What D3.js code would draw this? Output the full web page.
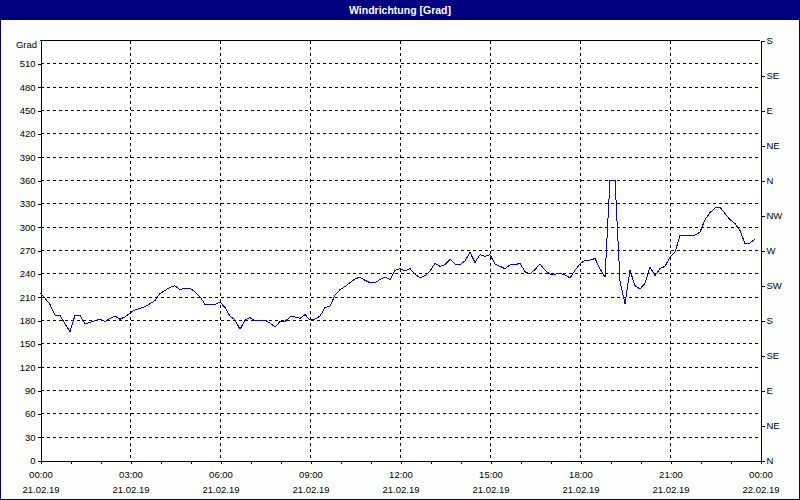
<!DOCTYPE html>
<html>
<head>
<meta charset="utf-8">
<script src="https://cdn.jsdelivr.net/npm/d3@7"></script>
<style>
  html, body { margin: 0; padding: 0; background: #fcfefc; }
  svg { display: block; }
  text { font-family: "Liberation Sans", Arial, sans-serif; }
</style>
</head>
<body>
<svg id="chart" width="800" height="500"></svg>
<script>
// ---- data ----
const title = "Windrichtung [Grad]";
const unitLabel = "Grad";
const startTime = "2019-02-21T00:00:00";
const stepMinutes = 10;
// wind direction in degrees, one value every 10 minutes from 21.02.19 00:00
const values = [
  215, 208, 200, 186, 186, 175, 165, 186, 186, 175, 177, 179,
  181, 178, 182, 185, 181, 184, 189, 193, 195, 197, 201, 205,
  214, 218, 222, 224, 219, 221, 221, 216, 210, 200, 200, 200,
  203, 196, 185, 180, 168, 180, 183, 179, 180, 180, 176, 171,
  178, 178, 184, 184, 182, 187, 180, 181, 185, 196, 198, 212,
  219, 223, 228, 233, 235, 231, 228, 228, 232, 235, 232, 244,
  246, 243, 246, 239, 234, 237, 243, 253, 249, 251, 258, 252,
  251, 256, 267, 254, 264, 262, 264, 252, 249, 246, 251, 251,
  253, 242, 239, 245, 252, 244, 239, 239, 240, 238, 234, 244,
  252, 257, 257, 259, 246, 235, 360, 360, 230, 201, 244, 224,
  220, 227, 248, 237, 246, 249, 261, 267, 289, 289, 289, 289,
  293, 309, 318, 324, 325, 317, 309, 304, 295, 278, 279, 284
];
const yTickValues = [0, 30, 60, 90, 120, 150, 180, 210, 240, 270, 300, 330, 360, 390, 420, 450, 480, 510];
const compassValues = [0, 45, 90, 135, 180, 225, 270, 315, 360, 405, 450, 495, 540];
const compassLabels = ["N", "NE", "E", "SE", "S", "SW", "W", "NW", "N", "NE", "E", "SE", "S"];
const xMajorTicks = [
  "2019-02-21T00:00:00", "2019-02-21T03:00:00", "2019-02-21T06:00:00",
  "2019-02-21T09:00:00", "2019-02-21T12:00:00", "2019-02-21T15:00:00",
  "2019-02-21T18:00:00", "2019-02-21T21:00:00", "2019-02-22T00:00:00"
];
const xDomain = ["2019-02-21T00:00:00", "2019-02-22T00:00:00"];
const yDomain = [0, 540];

// ---- layout ----
const W = 800, H = 500;
const plot = { left: 40, right: 760, top: 40, bottom: 460 };
const navy = "#000080";

const svg = d3.select("#chart");

// window frame + title bar
svg.append("rect").attr("x", 0.5).attr("y", 0.5).attr("width", W - 1).attr("height", H - 1)
  .attr("fill", "#fcfefc").attr("stroke", navy).attr("stroke-width", 1);
svg.append("rect").attr("x", 0).attr("y", 0).attr("width", W).attr("height", 20).attr("fill", navy);
svg.append("text").attr("x", W / 2).attr("y", 10).attr("dy", "0.35em")
  .attr("text-anchor", "middle").attr("fill", "#ffffff")
  .attr("font-size", "10.5px").attr("font-weight", "bold").text(title);

const parse = d3.isoParse;
const t0 = parse(startTime);
const data = values.map((v, i) => ({ t: new Date(t0.getTime() + i * stepMinutes * 60000), v }));

const x = d3.scaleTime().domain(xDomain.map(parse)).range([plot.left, plot.right]);
const y = d3.scaleLinear().domain(yDomain).range([plot.bottom, plot.top]);

// plot background
svg.append("rect").attr("x", plot.left).attr("y", plot.top)
  .attr("width", plot.right - plot.left).attr("height", plot.bottom - plot.top)
  .attr("fill", "#ffffff");

// grid
const grid = svg.append("g").attr("stroke", "#000").attr("stroke-width", 1)
  .attr("stroke-dasharray", "3,3").attr("shape-rendering", "crispEdges");
grid.selectAll("line.h").data(yTickValues.filter(v => v > 0)).join("line")
  .attr("x1", plot.left + 1).attr("x2", plot.right)
  .attr("y1", d => Math.round(y(d)) + 0.5).attr("y2", d => Math.round(y(d)) + 0.5);
grid.selectAll("line.v").data(xMajorTicks.slice(1, -1).map(parse)).join("line")
  .attr("y1", plot.top + 1).attr("y2", plot.bottom)
  .attr("x1", d => Math.round(x(d)) + 0.5).attr("x2", d => Math.round(x(d)) + 0.5);

// frame top line
svg.append("line").attr("x1", plot.left).attr("x2", plot.right)
  .attr("y1", plot.top + 0.5).attr("y2", plot.top + 0.5)
  .attr("stroke", "#000").attr("shape-rendering", "crispEdges");

// left axis
const yAxis = d3.axisLeft(y).tickValues(yTickValues).tickSize(3).tickSizeOuter(0).tickPadding(2)
  .tickFormat(d3.format("d"));
const gy = svg.append("g").attr("transform", `translate(${plot.left + 0.5},0.5)`).call(yAxis);
gy.select(".domain").attr("shape-rendering", "crispEdges");
gy.selectAll("line").attr("shape-rendering", "crispEdges");
gy.selectAll("text").attr("font-size", "9.5px").attr("fill", "#000")
  .attr("font-family", "'Liberation Sans', Arial, sans-serif");
svg.append("text").attr("x", 37).attr("y", 45).attr("dy", "0.35em")
  .attr("text-anchor", "end").attr("font-size", "9.5px").attr("fill", "#000").text(unitLabel);

// right axis (compass)
const rAxis = d3.axisRight(y).tickValues(compassValues).tickSize(4).tickSizeOuter(0).tickPadding(2)
  .tickFormat((d, i) => compassLabels[i]);
const gr = svg.append("g").attr("transform", `translate(${plot.right + 0.5},0.5)`).call(rAxis);
gr.selectAll("line, path").attr("shape-rendering", "crispEdges");
gr.selectAll("text").attr("font-size", "9.5px").attr("fill", "#000")
  .attr("font-family", "'Liberation Sans', Arial, sans-serif");

// bottom axis: hourly minor ticks
const hourTicks = x.ticks(d3.timeHour.every(1));
const gMinor = svg.append("g").attr("transform", `translate(0.5,${plot.bottom + 0.5})`)
  .call(d3.axisBottom(x).tickValues(hourTicks).tickSize(3).tickSizeOuter(0).tickFormat(""));
gMinor.selectAll("line, path").attr("shape-rendering", "crispEdges");

// bottom axis labels (time + date)
const gx = svg.append("g").attr("transform", `translate(0.5,${plot.bottom + 0.5})`)
  .call(d3.axisBottom(x).tickValues(xMajorTicks.map(parse)).tickSize(3).tickSizeOuter(0)
    .tickFormat(d3.timeFormat("%H:%M")).tickPadding(8));
gx.select(".domain").remove();
gx.selectAll("line").attr("shape-rendering", "crispEdges");
gx.selectAll("text").attr("font-size", "9.5px").attr("fill", "#000")
  .attr("font-family", "'Liberation Sans', Arial, sans-serif")
  .each(function (d) {
    const t = d3.select(this);
    t.append("tspan").attr("x", 0).attr("dy", "1.55em").text(d3.timeFormat("%d.%m.%y")(d));
  });

// data line
svg.append("path").datum(data)
  .attr("fill", "none").attr("stroke", "#0000ff").attr("stroke-width", 1)
  .attr("shape-rendering", "crispEdges")
  .attr("d", d3.line().x(d => x(d.t)).y(d => y(d.v)));
</script>
</body>
</html>
